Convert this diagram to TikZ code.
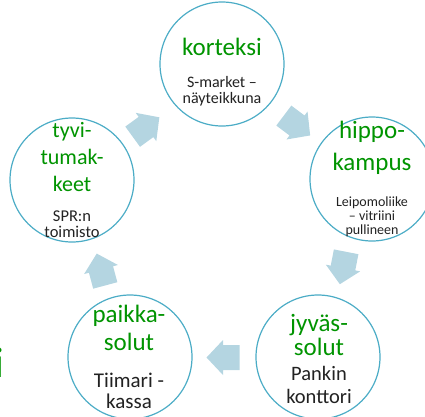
\documentclass[tikz,border=0pt]{standalone}
\usepackage{fontspec}
\setmainfont{Carlito}
\definecolor{ttl}{RGB}{0,148,0}
\definecolor{subc}{RGB}{34,34,34}
\definecolor{ring}{RGB}{75,172,198}
\definecolor{arr}{RGB}{180,213,225}
\newcommand\mylines[1]{\vtop{\lineskiplimit=-1000pt\lineskip=0pt\halign{\hfil##\hfil\cr #1\crcr}}}
\begin{document}
\begin{tikzpicture}[x=1pt,y=-1pt,
  ringnode/.style={circle,draw=ring,line width=1.2pt,fill=white,minimum size=124pt,inner sep=0pt},
  txt/.style={anchor=base,inner sep=0pt},
  barrow/.pic={\fill[arr] (-16.5,-12.5) -- (0,-12.5) -- (0,-17.5) -- (16.5,0) -- (0,17.5) -- (0,12.5) -- (-16.5,12.5) -- cycle;}]
\useasboundingbox (0,0) rectangle (425,416);
% circles
\node[ringnode] (kort) at (222,64) {};
\node[ringnode] (hippo) at (372,179) {};
\node[ringnode] (jyvas) at (318,357) {};
\node[ringnode] (paikka) at (130,357) {};
\node[ringnode] (tyvi) at (72,180) {};
% block arrows
\pic[rotate=36] at (146,127) {barrow};
\pic[rotate=-37] at (297,125.5) {barrow};
\pic[rotate=-101] at (343,268) {barrow};
\pic[rotate=180] at (223,357.5) {barrow};
\pic[rotate=105] at (101,269.5) {barrow};
% texts
\node[txt,text=ttl,font=\fontsize{25}{30}\selectfont] (kortT) at (222,55) {\mylines{korteksi}};
\node[txt,text=subc,font=\fontsize{16}{16}\selectfont] (kortS) at (222,87) {\mylines{S-market –\cr näyteikkuna}};
\node[txt,text=ttl,font=\fontsize{25}{32}\selectfont] (hippoT) at (372,138) {\mylines{hippo-\cr kampus}};
\node[txt,text=subc,font=\fontsize{14}{14}\selectfont] (hippoS) at (372,206) {\mylines{Leipomoliike\cr – vitriini\cr pullineen}};
\node[txt,text=ttl,font=\fontsize{25}{24}\selectfont] (jyvasT) at (319,331) {\mylines{jyväs-\cr solut}};
\node[txt,text=subc,font=\fontsize{20.5}{23}\selectfont] (jyvasS) at (319,380) {\mylines{Pankin\cr konttori}};
\node[txt,text=ttl,font=\fontsize{25}{28}\selectfont] (paikkaT) at (129,322) {\mylines{paikka-\cr solut}};
\node[txt,text=subc,font=\fontsize{21}{21}\selectfont] (paikkaS) at (129,387) {\mylines{Tiimari -\cr kassa}};
\node[txt,text=ttl,font=\fontsize{22}{27}\selectfont] (tyviT) at (72,137) {\mylines{tyvi-\cr tumak-\cr keet}};
\node[txt,text=subc,font=\fontsize{16.5}{16}\selectfont] (tyviS) at (72,221) {\mylines{SPR:n\cr toimisto}};
% fragment at left edge (cut off by the page, as in the reference)
\node[anchor=base west,inner sep=0pt,text=ttl,font=\fontsize{43}{43}\selectfont] (frag) at (-5.5,377) {i};
\end{tikzpicture}
\end{document}
